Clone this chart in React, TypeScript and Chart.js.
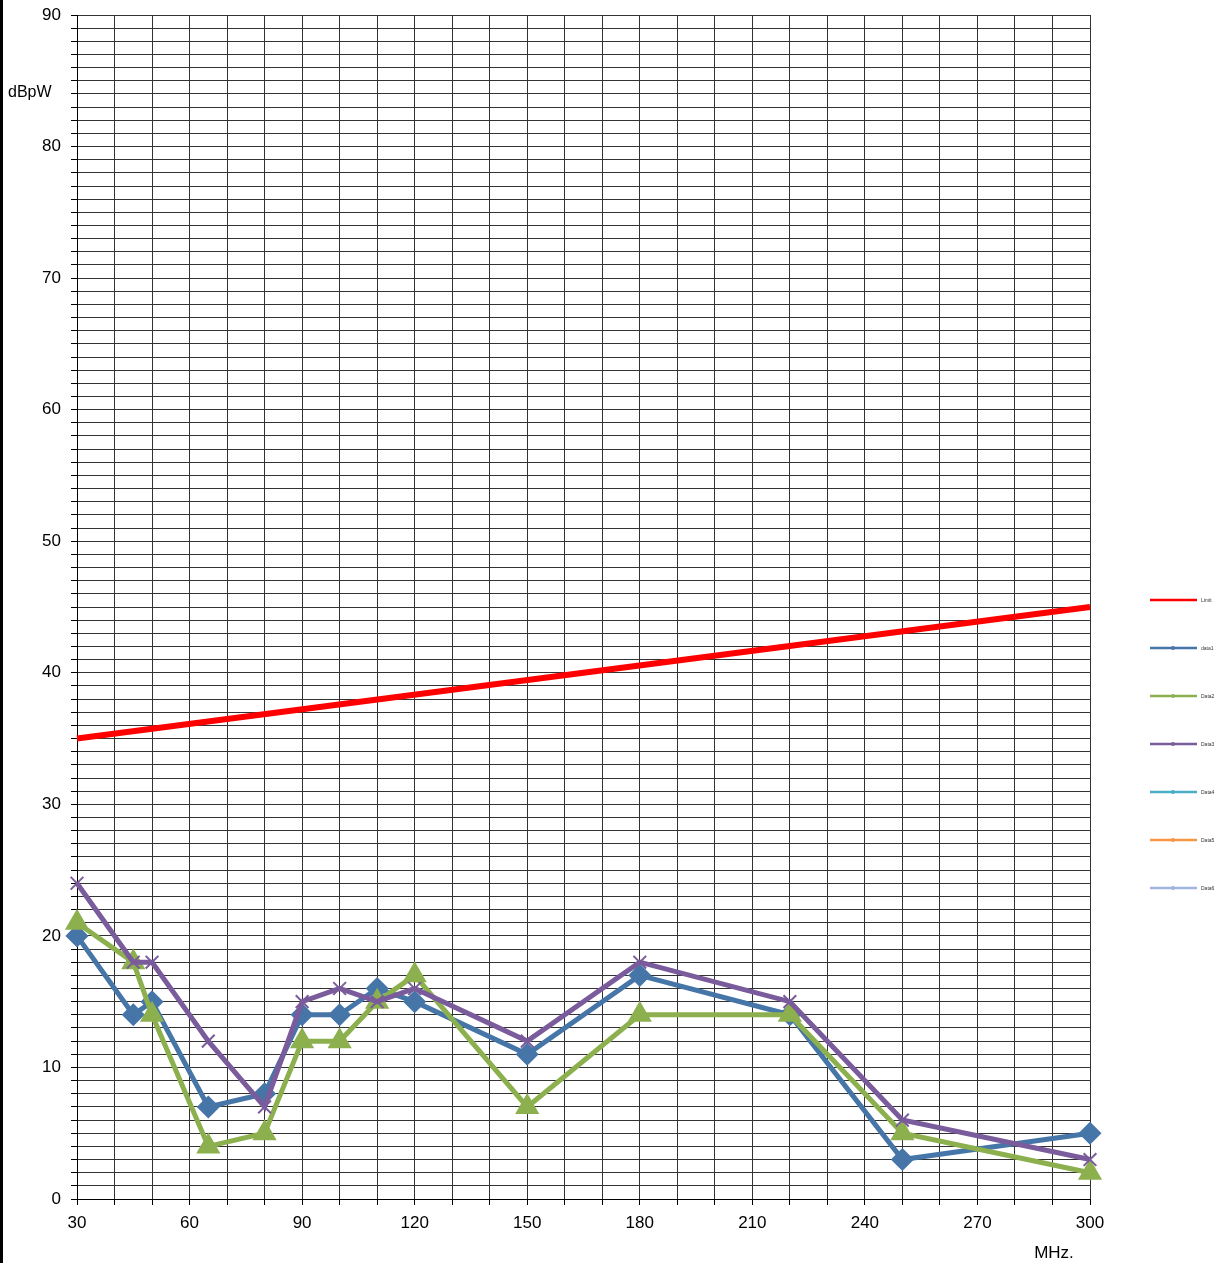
import React, { useEffect, useRef } from 'react';
import { Chart, registerables } from 'chart.js';

Chart.register(...registerables);

const freqs = [30, 45, 50, 65, 80, 90, 100, 110, 120, 150, 180, 220, 250, 300];
const data1Values = [20, 14, 15, 7, 8, 14, 14, 16, 15, 11, 17, 14, 3, 5];
const data2Values = [21, 18, 14, 4, 5, 12, 12, 15, 17, 7, 14, 14, 5, 2];
const data3Values = [24, 18, 18, 12, 7, 15, 16, 15, 16, 12, 18, 15, 6, 3];
const limitFreqs = [30, 300];
const limitValues = [35, 45];
const seriesLabels = ['Limit', 'data1', 'Data2', 'Data3', 'Data4', 'Data5', 'Data6'];
const seriesColors = ['#ff0000', '#4675a8', '#8db04f', '#7a5b9b', '#4bacc6', '#f79646', '#9fb4de'];
const yAxisTitle = 'dBpW';
const xAxisTitle = 'MHz.';

const toPoints = (xs: number[], ys: number[]) => xs.map((x, i) => ({ x, y: ys[i] }));

const FONT = '"Liberation Sans", Arial, Helvetica, sans-serif';

const decorPlugin = {
  id: 'decor',
  afterDraw(chart: any) {
    const ctx = chart.ctx;
    ctx.save();
    // left black edge
    ctx.fillStyle = '#000';
    ctx.fillRect(0, 0, 3, chart.height);
    // axis titles
    ctx.fillStyle = '#000';
    ctx.font = `16px ${FONT}`;
    ctx.textAlign = 'left';
    ctx.textBaseline = 'middle';
    ctx.fillText(yAxisTitle, 8, 93);
    ctx.font = `17px ${FONT}`;
    ctx.textAlign = 'center';
    ctx.fillText(xAxisTitle, 1054, 1253);
    // legend
    const dsets = chart.data.datasets;
    dsets.forEach((ds: any, i: number) => {
      const y = 600 + 48 * i;
      ctx.strokeStyle = ds.borderColor;
      ctx.lineWidth = 2.5;
      ctx.beginPath();
      ctx.moveTo(1150, y);
      ctx.lineTo(1197, y);
      ctx.stroke();
      if (i > 0) {
        ctx.fillStyle = ds.borderColor;
        ctx.beginPath();
        ctx.arc(1173, y, 2, 0, Math.PI * 2);
        ctx.fill();
      }
      ctx.fillStyle = '#333';
      ctx.font = `5px ${FONT}`;
      ctx.textAlign = 'left';
      ctx.textBaseline = 'middle';
      ctx.fillText(ds.label, 1201, y + 0.5);
    });
    ctx.restore();
  },
};

export default function App() {
  const ref = useRef<HTMLCanvasElement | null>(null);

  useEffect(() => {
    if (!ref.current) return;
    const mk = (i: number, xs: number[], ys: number[], extra: any) => ({
      label: seriesLabels[i],
      data: toPoints(xs, ys),
      borderColor: seriesColors[i],
      backgroundColor: seriesColors[i],
      borderWidth: 5,
      pointRadius: 0,
      tension: 0,
      clip: false,
      ...extra,
    });
    const chart = new Chart(ref.current, {
      type: 'line',
      data: {
        datasets: [
          mk(0, limitFreqs, limitValues, { borderWidth: 6, order: 4 }),
          mk(1, freqs, data1Values, { pointStyle: 'rectRot', pointRadius: 8, order: 3 }),
          mk(2, freqs, data2Values, { pointStyle: 'triangle', pointRadius: 9, order: 2 }),
          mk(3, freqs, data3Values, {
            pointStyle: 'crossRot',
            pointRadius: 9,
            pointBorderWidth: 2,
            order: 1,
          }),
          mk(4, [], [], { order: 0 }),
          mk(5, [], [], { order: 0 }),
          mk(6, [], [], { order: 0 }),
        ] as any,
      },
      options: {
        animation: false,
        responsive: false,
        maintainAspectRatio: false,
        layout: { padding: { top: 15, right: 129, bottom: 0, left: 0 } },
        plugins: {
          legend: { display: false },
          tooltip: { enabled: false },
        },
        scales: {
          x: {
            type: 'linear',
            min: 30,
            max: 300,
            afterFit: (s: any) => {
              s.height = 64;
              s.paddingLeft = 0;
              s.paddingRight = 0;
            },
            grid: { color: '#333', lineWidth: 1, drawTicks: true, tickLength: 6, tickColor: '#000' },
            border: { color: '#000', width: 1 },
            ticks: {
              stepSize: 10,
              autoSkip: false,
              maxRotation: 0,
              padding: 8,
              color: '#000',
              font: { family: FONT, size: 17 },
              callback: (v: any) => (Number(v) % 30 === 0 ? String(v) : ''),
            },
          },
          y: {
            type: 'linear',
            min: 0,
            max: 90,
            afterFit: (s: any) => {
              s.width = 77;
              s.paddingTop = 0;
              s.paddingBottom = 0;
            },
            grid: { color: '#333', lineWidth: 1, drawTicks: true, tickLength: 6, tickColor: '#000' },
            border: { color: '#000', width: 1 },
            ticks: {
              stepSize: 1,
              autoSkip: false,
              padding: 10,
              color: '#000',
              font: { family: FONT, size: 17 },
              callback: (v: any) => (Number(v) % 10 === 0 ? String(v) : ''),
            },
          },
        },
      } as any,
      plugins: [decorPlugin],
    });
    return () => chart.destroy();
  }, []);

  return (
    <div style={{ position: 'absolute', left: 0, top: 0, width: 1219, height: 1263, background: '#fff' }}>
      <canvas ref={ref} width={1219} height={1263} style={{ display: 'block', width: 1219, height: 1263 }} />
    </div>
  );
}
